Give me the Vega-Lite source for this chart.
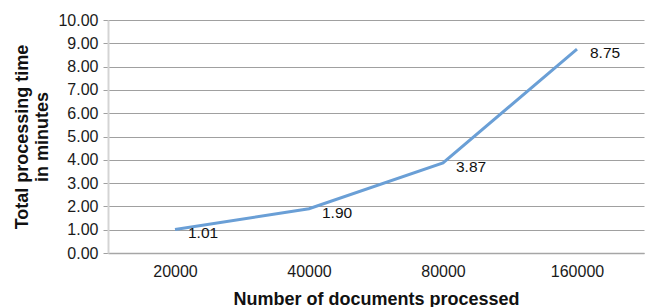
{
  "$schema": "https://vega.github.io/schema/vega-lite/v6.json",
  "width": 536,
  "height": 233,
  "autosize": "none",
  "padding": {"left": 108, "top": 20, "right": 4, "bottom": 54},
  "background": "white",
  "config": {
    "view": {"stroke": null},
    "font": "Liberation Sans",
    "axis": {"labelColor": "#1a1a1a", "titleColor": "#111111", "labelFont": "Liberation Sans", "titleFont": "Liberation Sans"}
  },
  "data": {
    "values": [
      {"docs": "20000", "minutes": 1.01},
      {"docs": "40000", "minutes": 1.90},
      {"docs": "80000", "minutes": 3.87},
      {"docs": "160000", "minutes": 8.75}
    ]
  },
  "encoding": {
    "x": {
      "field": "docs",
      "type": "ordinal",
      "sort": null,
      "scale": {"type": "point", "padding": 0.5},
      "axis": {
        "title": "Number of documents processed",
        "titleFontSize": 18,
        "titleFontWeight": "bold",
        "titlePadding": 11,
        "labelAngle": 0,
        "labelFontSize": 16,
        "labelPadding": 10,
        "ticks": false,
        "grid": false,
        "domainColor": "#a6a6a6",
        "domainWidth": 1.5
      }
    },
    "y": {
      "field": "minutes",
      "type": "quantitative",
      "scale": {"domain": [0, 10], "nice": false},
      "axis": {
        "title": ["Total processing time", "in minutes"],
        "titleFontSize": 18,
        "titleFontWeight": "bold",
        "titleLineHeight": 20,
        "titlePadding": 6,
        "values": [0, 1, 2, 3, 4, 5, 6, 7, 8, 9, 10],
        "format": ".2f",
        "labelFontSize": 16,
        "labelPadding": 5,
        "tickSize": 5,
        "tickColor": "#a0a0a0",
        "grid": true,
        "gridColor": "#a0a0a0",
        "gridWidth": 1.2,
        "domainColor": "#d4d4d4",
        "domainWidth": 2
      }
    }
  },
  "layer": [
    {
      "mark": {"type": "line", "color": "#6a9fd6", "strokeWidth": 3}
    },
    {
      "mark": {"type": "text", "align": "left", "baseline": "middle", "dx": 13, "dy": 4, "fontSize": 15.5, "color": "#111111"},
      "encoding": {
        "text": {"field": "minutes", "type": "quantitative", "format": ".2f"}
      }
    }
  ]
}
